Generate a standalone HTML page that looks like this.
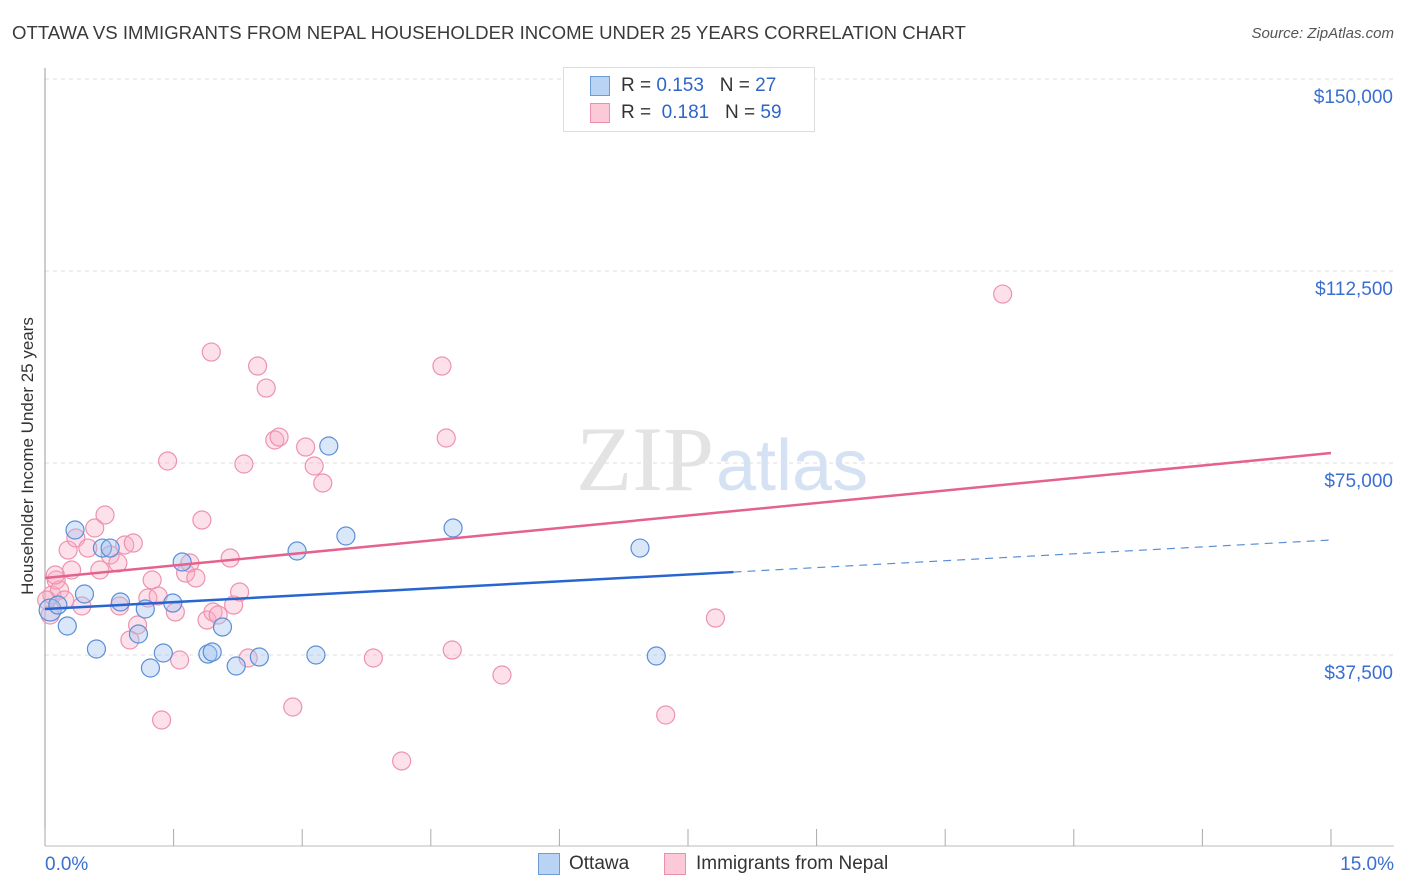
<!DOCTYPE html>
<html><head><meta charset="utf-8">
<style>
body{margin:0;background:#fff;font-family:"Liberation Sans",sans-serif;}
#wrap{position:relative;width:1406px;height:892px;overflow:hidden;}
.t{position:absolute;white-space:nowrap;}
</style></head>
<body>
<div id="wrap">
<div class="t" style="left:12px;top:22px;font-size:18.6px;color:#3a3a3a;">OTTAWA VS IMMIGRANTS FROM NEPAL HOUSEHOLDER INCOME UNDER 25 YEARS CORRELATION CHART</div>
<div class="t" style="right:12px;top:25px;font-size:15px;color:#555;font-style:italic;">Source: ZipAtlas.com</div>
<div class="t" style="left:28px;top:456px;font-size:17px;color:#333;transform:translate(-50%,-50%) rotate(-90deg);">Householder Income Under 25 years</div>
<svg id="svg" width="1406" height="892" style="position:absolute;left:0;top:0"></svg>
<div style="position:absolute;left:563px;top:67px;width:250px;height:63px;border:1px solid #ddd;background:#fff;">
 <div style="position:absolute;left:26px;top:8px;width:18px;height:18px;background:#b8d3f4;border:1px solid #6f9bd4;"></div>
 <div class="t" style="left:57px;top:7px;font-size:19px;color:#333;">R = <span style="color:#2d66c7">0.153</span>&nbsp;&nbsp;&nbsp;N = <span style="color:#2d66c7">27</span></div>
 <div style="position:absolute;left:26px;top:35px;width:18px;height:18px;background:#fbc9d8;border:1px solid #ec8fab;"></div>
 <div class="t" style="left:57px;top:34px;font-size:19px;color:#333;">R = &nbsp;<span style="color:#2d66c7">0.181</span>&nbsp;&nbsp;&nbsp;N = <span style="color:#2d66c7">59</span></div>
</div>
<div style="position:absolute;left:538px;top:853px;width:20px;height:20px;background:#b8d3f4;border:1px solid #6f9bd4;"></div>
<div class="t" style="left:569px;top:853px;font-size:19px;color:#333;">Ottawa</div>
<div style="position:absolute;left:664px;top:853px;width:20px;height:20px;background:#fbc9d8;border:1px solid #ec8fab;"></div>
<div class="t" style="left:696px;top:853px;font-size:19px;color:#333;">Immigrants from Nepal</div>
</div>
<script>
const ottawaX=[0.06,0.15,0.26,0.35,0.46,0.60,0.67,0.76,0.88,1.09,1.17,1.23,1.38,1.49,1.60,1.90,1.95,2.07,2.23,2.50,2.94,3.16,3.31,3.51,4.76,6.94,7.13];
const ottawaY=[46290,47260,43160,61910,49410,38670,58390,58390,47850,41600,46480,34960,37890,47650,55660,37690,38080,42970,35350,37110,57810,37500,78320,60740,62300,58390,37300];
const nepalX=[0.06,0.08,0.13,0.17,0.23,0.27,0.31,0.36,0.43,0.50,0.58,0.64,0.70,0.76,0.85,0.87,0.93,0.99,1.03,1.08,1.20,1.25,1.32,1.36,1.43,1.52,1.57,1.64,1.69,1.76,1.83,1.89,1.94,1.96,2.02,2.16,2.20,2.27,2.32,2.37,2.48,2.58,2.68,2.73,2.89,3.04,3.14,3.24,3.83,4.16,4.63,4.68,4.75,5.33,7.24,7.82,11.17,0.02,0.12];
const nepalY=[45310,49220,52150,50190,48240,58000,54100,60350,47070,58390,62300,54100,64840,57030,55470,47070,58980,40430,59370,43360,48630,52150,49020,24800,75390,45900,36520,53510,55470,52540,63860,44330,96670,45900,45310,56440,47260,49800,74800,36910,93940,89640,79490,80070,27340,78120,74410,71090,36910,16800,93940,79880,38470,33590,25780,44720,108000,48240,53120];
const yTicks=[37500,75000,112500,150000];
const yTickLabels=["$37,500","$75,000","$112,500","$150,000"];
const xTicks=[0,1.5,3,4.5,6,7.5,9,10.5,12,13.5,15];
const ottawaTrend=[46480,899,8.03];
const nepalTrend=[52540,1627];
const X=v=>45+v/15*1286, Y=v=>847-v/37500*192;
const svg=document.getElementById('svg'),NS='http://www.w3.org/2000/svg';
function mk(t,a){const e=document.createElementNS(NS,t);for(const k in a)e.setAttribute(k,a[k]);svg.appendChild(e);return e;}
yTicks.forEach((v,i)=>{
 const g=mk('line',{x1:45,x2:1394,y1:Y(v),y2:Y(v),stroke:'#ddd','stroke-dasharray':'4,4'});
 
 
 const t=mk('text',{x:1393,y:Y(v)+24,'text-anchor':'end','font-size':19,fill:'#3a6fcf','font-family':'Liberation Sans'});
 t.textContent=yTickLabels[i];
 
 
});
const ax=mk('line',{x1:45,x2:45,y1:68,y2:846,stroke:'#999'});


const bx=mk('line',{x1:45,x2:1394,y1:846,y2:846,stroke:'#bbb'});


xTicks.forEach(v=>{const l=mk('line',{x1:X(v),x2:X(v),y1:829,y2:846,stroke:'#aaa'});
 
 });
const x0=mk('text',{x:45,y:870,'font-size':19,fill:'#3a6fcf','font-family':'Liberation Sans'});x0.textContent='0.0%';


const x1=mk('text',{x:1394,y:870,'text-anchor':'end','font-size':19,fill:'#3a6fcf','font-family':'Liberation Sans'});x1.textContent='15.0%';


const w1=mk('text',{x:714,y:490,'text-anchor':'end','font-size':92,fill:'#e3e3e3','font-family':'Liberation Serif'});w1.textContent='ZIP';


const w2=mk('text',{x:716,y:490,'font-size':72,fill:'#d4e2f4','font-family':'Liberation Sans'});w2.textContent='atlas';


for(let i=0;i<nepalX.length;i++){const c=mk('circle',{cx:X(nepalX[i]),cy:Y(nepalY[i]),r:9,fill:'rgba(248,170,195,0.35)',stroke:'#ee92ae','stroke-width':1.2});
 
 }
for(let i=0;i<ottawaX.length;i++){const c=mk('circle',{cx:X(ottawaX[i]),cy:Y(ottawaY[i]),r:i==0?11:9,fill:'rgba(160,195,240,0.4)',stroke:'#5a8fd8','stroke-width':1.2});
 
 }
const bt=mk('line',{x1:X(0),y1:Y(ottawaTrend[0]),x2:X(ottawaTrend[2]),y2:Y(ottawaTrend[0]+ottawaTrend[1]*ottawaTrend[2]),stroke:'#2766d0','stroke-width':2.5});


const bd=mk('line',{x1:X(ottawaTrend[2]),y1:Y(ottawaTrend[0]+ottawaTrend[1]*ottawaTrend[2]),x2:X(15),y2:Y(ottawaTrend[0]+ottawaTrend[1]*15),stroke:'#5a8fd8','stroke-width':1.2,'stroke-dasharray':'8,6'});


const pt=mk('line',{x1:X(0),y1:Y(nepalTrend[0]),x2:X(15),y2:Y(nepalTrend[0]+nepalTrend[1]*15),stroke:'#e4628c','stroke-width':2.5});


</script>
</body></html>
